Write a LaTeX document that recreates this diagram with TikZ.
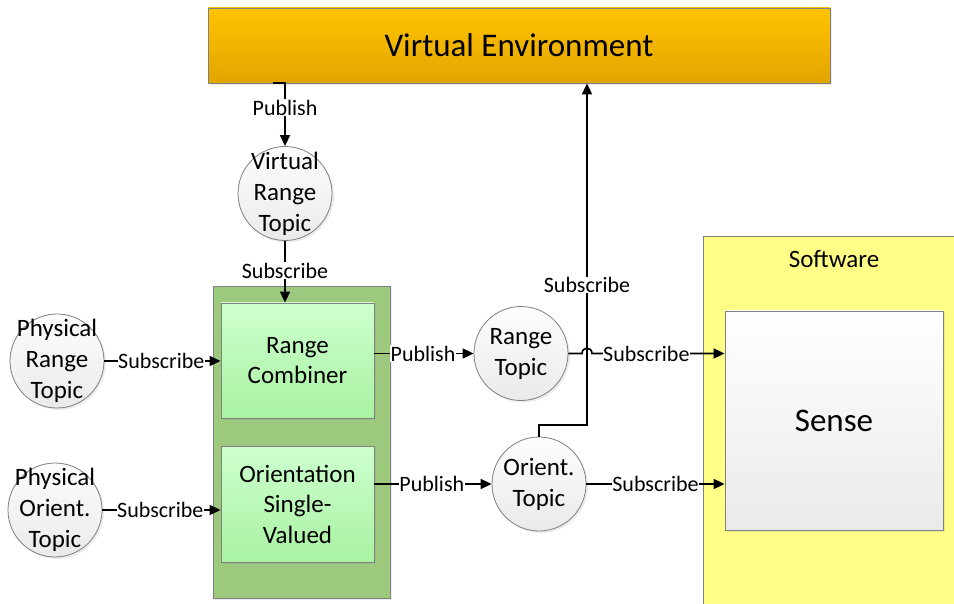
\documentclass[tikz,border=0pt]{standalone}
\usepackage{fontspec}
\setmainfont{Carlito}
\usetikzlibrary{arrows.meta,shadows,calc}

\definecolor{envtop}{HTML}{FFC300}
\definecolor{envbot}{HTML}{E2A500}
\definecolor{grpgreen}{HTML}{9DC97E}
\definecolor{boxtop}{HTML}{CEFFCE}
\definecolor{boxbot}{HTML}{A8F2A2}
\definecolor{swyellow}{HTML}{FFFF88}
\definecolor{edgegray}{HTML}{808080}
\definecolor{topictop}{HTML}{FDFDFD}
\definecolor{topicbot}{HTML}{EAEAEA}

\begin{document}
\begin{tikzpicture}[x=1pt,y=-1pt,
  softshadow/.style={drop shadow={shadow xshift=2pt,shadow yshift=-2pt,opacity=0.15}},
  conn/.style={line width=1.7pt,-{Triangle[length=11pt,width=10pt]}},
  lab/.style={fill=white,inner sep=0.6pt,font=\fontsize{22}{24}\selectfont},
  topic/.style={circle,draw=edgegray,line width=0.8pt,top color=topictop,bottom color=topicbot,
    minimum size=94pt,inner sep=0pt,softshadow},
  topictext/.style={align=center,inner sep=0pt,font=\fontsize{25}{31}\selectfont},
  procbox/.style={draw=edgegray,line width=0.8pt,top color=boxtop,bottom color=boxbot,
    minimum width=153pt,align=center,inner sep=0pt,font=\fontsize{25}{30.5}\selectfont,softshadow}
]
\useasboundingbox (0,0) rectangle (954,604);
\fill[white] (0,0) rectangle (954,604);

% Virtual environment banner
\node[draw=edgegray,line width=0.8pt,top color=envtop,bottom color=envbot,
  minimum width=622pt,minimum height=75pt,inner sep=0pt,softshadow,
  font=\fontsize{33}{36}\selectfont] (ve) at (519,45.5) {Virtual Environment};

% Software container and Sense block
\node[draw=edgegray,line width=0.8pt,fill=swyellow,anchor=north west,
  minimum width=270pt,minimum height=390pt,inner sep=0pt] (sw) at (703,236) {};
\node[inner sep=0pt,font=\fontsize{25}{28}\selectfont] (swlabel) at (834,259) {Software};
\node[draw=edgegray,line width=0.8pt,top color=white,bottom color=topicbot,
  minimum width=218pt,minimum height=219pt,inner sep=0pt,softshadow,
  font=\fontsize{33}{36}\selectfont] (sense) at (834,420.5) {Sense};

% Processing group
\node[draw=edgegray,line width=0.8pt,fill=grpgreen,minimum width=177pt,minimum height=312pt,
  inner sep=0pt,softshadow] (grp) at (301.5,442) {};
\node[procbox,minimum height=115pt] (rc) at (297.5,360.5) {Range\\Combiner};
\node[procbox,minimum height=116pt] (osv) at (297.5,504) {Orientation\\Single-\\Valued};

% Topics
\node[topic] (vrt) at (285,193.5) {};
\node[topictext] at (vrt) {Virtual\\Range\\Topic};
\node[topic] (prt) at (57,361) {};
\node[topictext] at (prt) {Physical\\Range\\Topic};
\node[topic] (pot) at (55,510) {};
\node[topictext] at (pot) {Physical\\Orient.\\Topic};
\node[topic] (rt) at (521,353.5) {};
\node[topictext] at (rt) {Range\\Topic};
\node[topic] (ot) at (539,484) {};
\node[topictext] at (ot) {Orient.\\Topic};

% Connectors
\coordinate (pubstart) at (273,83);
\coordinate (bend) at (587,425);

\draw[conn] (pubstart) -- (pubstart -| vrt) -- node[lab,pos=0.39] {Publish} (vrt.north);
\draw[conn] (vrt.south) -- node[lab,pos=0.48] {Subscribe} (vrt.south |- rc.north);
\draw[conn] (prt.east) -- node[lab,pos=0.49] {Subscribe} (prt.east -| rc.west);
\draw[conn] (pot.east) -- node[lab,pos=0.49] {Subscribe} (pot.east -| osv.west);
\draw[conn] (rc.east |- rt) -- node[lab,pos=0.49] {Publish} (rt.west);
\draw[conn] (osv.east |- ot) -- node[lab,pos=0.49] {Publish} (ot.west);
\draw[conn] (ot.north) |- (bend) -- node[lab,pos=0.41] {Subscribe} (bend |- ve.south);
\draw[conn] (rt.east) -- ($(bend |- rt)+(-5,0)$)
  .. controls ($(bend |- rt)+(-5,-7)$) and ($(bend |- rt)+(5,-7)$) .. ($(bend |- rt)+(5,0)$)
  -- node[lab,pos=0.41] {Subscribe} (sense.west |- rt);
\draw[conn] (ot.east) -- node[lab,pos=0.5] {Subscribe} (sense.west |- ot);
\end{tikzpicture}
\end{document}
